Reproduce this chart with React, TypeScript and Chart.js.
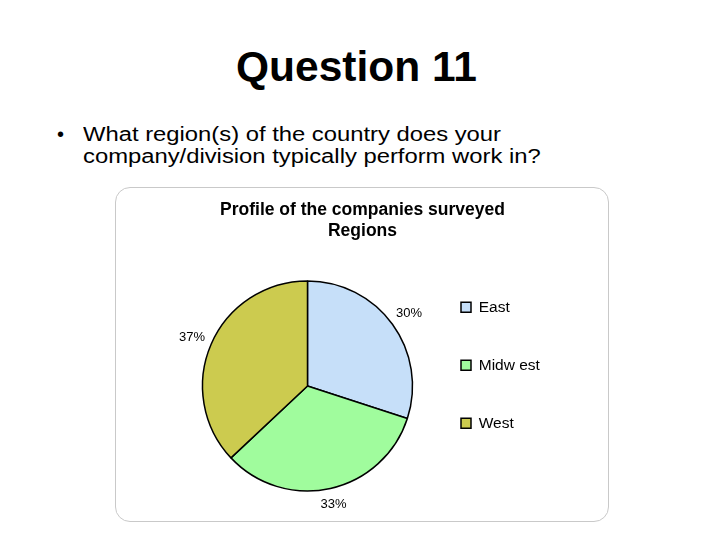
import React, { useEffect, useRef } from "react";
import { Chart, registerables } from "chart.js";

Chart.register(...registerables);

const slideTitle = "Question 11";
const bulletLines = [
  "What region(s) of the country does your",
  "company/division typically perform work in?",
];
const chartTitle = ["Profile of the companies surveyed", "Regions"];
const regions = ["East", "Midw est", "West"];
const shares = [30, 33, 37];
const sliceColors = ["#C6DFF9", "#A0FC9D", "#CCCB4F"];

const FONT = '"Liberation Sans", Arial, Helvetica, sans-serif';

const pctLabels = {
  id: "pctLabels",
  afterDatasetsDraw(chart: any) {
    const ctx = chart.ctx;
    const meta = chart.getDatasetMeta(0);
    const data = chart.data.datasets[0].data as number[];
    const total = data.reduce((a, b) => a + b, 0);
    ctx.save();
    ctx.font = `13px ${FONT}`;
    ctx.fillStyle = "#000";
    ctx.textAlign = "center";
    ctx.textBaseline = "middle";
    meta.data.forEach((arc: any, i: number) => {
      const { x, y, startAngle, endAngle, outerRadius } = arc.getProps(
        ["x", "y", "startAngle", "endAngle", "outerRadius"],
        true
      );
      const mid = (startAngle + endAngle) / 2;
      const text = Math.round((data[i] / total) * 100) + "%";
      const w = ctx.measureText(text).width;
      const h = 10;
      const c = Math.cos(mid);
      const s = Math.sin(mid);
      const ext = (Math.abs(c) * w) / 2 + (Math.abs(s) * h) / 2;
      const d = outerRadius + 7 + ext;
      ctx.fillText(text, x + c * d, y + s * d + 1.5);
    });
    ctx.restore();
  },
};

// let the legend labels run past the narrow legend box without being clipped
const widenLegend = {
  id: "widenLegend",
  afterLayout(chart: any) {
    const lg = chart.legend;
    if (lg) {
      lg.right += 60;
      lg.width += 60;
    }
  },
};

function PieChart() {
  const ref = useRef<HTMLCanvasElement | null>(null);
  useEffect(() => {
    if (!ref.current) return;
    const chart = new Chart(ref.current, {
      type: "pie",
      data: {
        labels: regions,
        datasets: [
          {
            data: shares,
            backgroundColor: sliceColors,
            borderColor: "#000",
            borderWidth: 1.5,
            radius: 105,
          } as any,
        ],
      },
      options: {
        responsive: false,
        animation: false,
        layout: { padding: { left: 196.5, right: 191.5, top: 200, bottom: 25 } },
        plugins: {
          title: {
            display: true,
            text: chartTitle,
            color: "#000",
            font: { size: 17.5, weight: "bold", family: FONT, lineHeight: 1.2 },
            padding: { top: 0, bottom: 15 },
          },
          legend: {
            display: true,
            position: "right",
            align: "start",
            fullSize: false,
            maxWidth: 110,
            labels: {
              boxWidth: 10,
              boxHeight: 10,
              padding: 42.5,
              color: "#000",
              font: { size: 15.5, family: FONT },
            },
          },
          tooltip: { enabled: false },
        },
      } as any,
      plugins: [pctLabels, widenLegend],
    });
    return () => chart.destroy();
  }, []);
  return (
    <canvas
      ref={ref}
      width={720}
      height={540}
      style={{ position: "absolute", left: 0, top: 0, width: 720, height: 540, display: "block" }}
    />
  );
}

export default function App() {
  return (
    <div
      style={{
        position: "absolute",
        left: 0,
        top: 0,
        width: 720,
        height: 540,
        background: "#fff",
        overflow: "hidden",
        fontFamily: FONT,
        color: "#000",
      }}
    >
      <div
        style={{
          position: "absolute",
          left: 236,
          top: 45.5,
          fontSize: 42.5,
          lineHeight: "42px",
          fontWeight: "bold",
          whiteSpace: "nowrap",
        }}
      >
        {slideTitle}
      </div>
      <div
        style={{
          position: "absolute",
          left: 57,
          top: 123.4,
          fontSize: 20,
          lineHeight: "22px",
        }}
      >
        •
      </div>
      <div
        style={{
          position: "absolute",
          left: 83,
          top: 123.4,
          fontSize: 20,
          lineHeight: "22px",
          whiteSpace: "nowrap",
          transform: "scaleX(1.19)",
          transformOrigin: "0 0",
        }}
      >
        {bulletLines.map((l, i) => (
          <div key={i}>{l}</div>
        ))}
      </div>
      <div
        style={{
          position: "absolute",
          left: 115,
          top: 187,
          width: 494,
          height: 335,
          border: "1.5px solid #c9c9c9",
          borderRadius: 15,
          boxSizing: "border-box",
          background: "#fff",
        }}
      />
      <PieChart />
    </div>
  );
}
